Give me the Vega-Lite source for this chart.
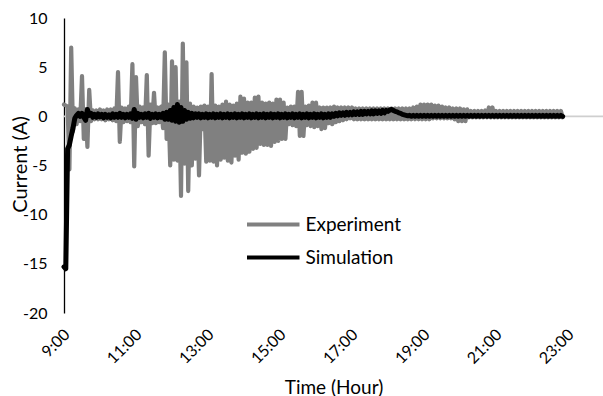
{
"$schema":"https://vega.github.io/schema/vega-lite/v6.json",
"width":539,"height":295,
"autosize":{"type":"none"},
"padding":{"left":64,"top":18,"right":0,"bottom":83},
"background":"white",
"config":{"view":{"stroke":null},"font":"Lato",
 "axis":{"labelColor":"#000","titleColor":"#000","labelFont":"Lato","titleFont":"Lato","titleFontWeight":"normal","grid":false,"ticks":false}},
"data":{"values":[
{"t":9.00,"e":1.2,"s":-15.3},{"t":9.05,"e":1.1,"s":-15.5},{"t":9.10,"e":1.0,"s":-3.3},{"t":9.15,"e":-5.4,"s":-2.9},{"t":9.20,"e":7.0,"s":-2.0},
{"t":9.25,"e":-1.5,"s":-1.2},{"t":9.30,"e":0.8,"s":-0.2},{"t":9.35,"e":-0.8,"s":0.1},{"t":9.40,"e":0.7,"s":0.3},{"t":9.45,"e":-0.5,"s":0.0},
{"t":9.50,"e":4.1,"s":0.3},{"t":9.55,"e":-2.3,"s":-0.1},{"t":9.60,"e":0.7,"s":-0.4},{"t":9.65,"e":-3.1,"s":0.7},{"t":9.70,"e":2.7,"s":0.1},
{"t":9.75,"e":-0.5,"s":0.3},{"t":9.80,"e":0.6,"s":-0.1},{"t":9.85,"e":-0.3,"s":0.2},{"t":9.90,"e":0.6,"s":-0.1},{"t":9.95,"e":-0.3,"s":0.25},
{"t":10.00,"e":0.7,"s":-0.05},{"t":10.05,"e":-0.3,"s":0.2},{"t":10.10,"e":0.6,"s":-0.15},{"t":10.15,"e":-0.4,"s":0.2},{"t":10.20,"e":0.7,"s":-0.1},
{"t":10.25,"e":-0.3,"s":0.15},{"t":10.30,"e":0.7,"s":-0.15},{"t":10.35,"e":-0.4,"s":0.25},{"t":10.40,"e":0.8,"s":-0.1},{"t":10.45,"e":-0.5,"s":0.2},
{"t":10.50,"e":4.5,"s":-0.1},{"t":10.55,"e":-2.6,"s":0.3},{"t":10.60,"e":0.9,"s":-0.1},{"t":10.65,"e":-0.6,"s":0.2},{"t":10.70,"e":0.8,"s":-0.15},
{"t":10.75,"e":-0.5,"s":0.2},{"t":10.80,"e":1.0,"s":-0.1},{"t":10.85,"e":-0.6,"s":0.25},{"t":10.90,"e":5.3,"s":-0.2},{"t":10.95,"e":-5.1,"s":0.7},
{"t":11.00,"e":4.0,"s":-0.3},{"t":11.05,"e":-1.0,"s":0.3},{"t":11.10,"e":1.0,"s":-0.1},{"t":11.15,"e":-0.6,"s":0.2},{"t":11.20,"e":0.9,"s":-0.15},
{"t":11.25,"e":-0.8,"s":0.25},{"t":11.30,"e":4.2,"s":-0.1},{"t":11.35,"e":-4.0,"s":0.3},{"t":11.40,"e":1.2,"s":-0.2},{"t":11.45,"e":-0.7,"s":0.2},
{"t":11.50,"e":2.4,"s":-0.1},{"t":11.55,"e":-0.7,"s":0.25},{"t":11.60,"e":0.9,"s":-0.15},{"t":11.65,"e":-0.6,"s":0.2},{"t":11.70,"e":1.0,"s":-0.1},
{"t":11.75,"e":-1.2,"s":0.3},{"t":11.80,"e":6.5,"s":-0.3},{"t":11.85,"e":-2.3,"s":0.4},{"t":11.90,"e":1.2,"s":-0.3},{"t":11.95,"e":-5.0,"s":0.6},
{"t":12.00,"e":5.6,"s":-0.4},{"t":12.05,"e":-4.4,"s":0.9},{"t":12.10,"e":5.0,"s":-0.5},{"t":12.15,"e":-4.5,"s":1.2},{"t":12.20,"e":1.5,"s":-0.6},
{"t":12.25,"e":-8.1,"s":0.9},{"t":12.30,"e":7.4,"s":-0.5},{"t":12.35,"e":-4.8,"s":0.6},{"t":12.40,"e":5.5,"s":-0.3},{"t":12.45,"e":-7.6,"s":0.4},
{"t":12.50,"e":1.3,"s":-0.2},{"t":12.55,"e":-5.0,"s":0.3},{"t":12.60,"e":1.0,"s":-0.15},{"t":12.65,"e":-4.3,"s":0.25},{"t":12.70,"e":0.9,"s":-0.1},
{"t":12.75,"e":-6.0,"s":0.25},{"t":12.80,"e":1.0,"s":-0.15},{"t":12.85,"e":-1.3,"s":0.2},{"t":12.90,"e":1.1,"s":-0.1},{"t":12.95,"e":-4.6,"s":0.25},
{"t":13.00,"e":1.0,"s":-0.15},{"t":13.05,"e":-4.5,"s":0.2},{"t":13.10,"e":4.3,"s":-0.1},{"t":13.15,"e":-4.6,"s":0.25},{"t":13.20,"e":1.1,"s":-0.15},
{"t":13.25,"e":-5.0,"s":0.2},{"t":13.30,"e":1.0,"s":-0.1},{"t":13.35,"e":-4.4,"s":0.25},{"t":13.40,"e":1.2,"s":-0.15},{"t":13.45,"e":-4.2,"s":0.2},
{"t":13.50,"e":1.5,"s":-0.1},{"t":13.55,"e":-4.5,"s":0.25},{"t":13.60,"e":1.2,"s":-0.15},{"t":13.65,"e":-4.7,"s":0.2},{"t":13.70,"e":1.1,"s":-0.1},
{"t":13.75,"e":-4.0,"s":0.25},{"t":13.80,"e":1.3,"s":-0.15},{"t":13.85,"e":-4.4,"s":0.2},{"t":13.90,"e":2.0,"s":-0.1},{"t":13.95,"e":-3.7,"s":0.25},
{"t":14.00,"e":1.8,"s":-0.15},{"t":14.05,"e":-3.8,"s":0.2},{"t":14.10,"e":1.4,"s":-0.1},{"t":14.15,"e":-3.6,"s":0.25},{"t":14.20,"e":1.4,"s":-0.15},
{"t":14.25,"e":-3.3,"s":0.2},{"t":14.30,"e":1.9,"s":-0.1},{"t":14.35,"e":-3.2,"s":0.25},{"t":14.40,"e":2.0,"s":-0.15},{"t":14.45,"e":-2.8,"s":0.2},
{"t":14.50,"e":1.4,"s":-0.1},{"t":14.55,"e":-2.9,"s":0.25},{"t":14.60,"e":1.3,"s":-0.15},{"t":14.65,"e":-2.9,"s":0.2},{"t":14.70,"e":1.4,"s":-0.1},
{"t":14.75,"e":-3.0,"s":0.25},{"t":14.80,"e":1.3,"s":-0.15},{"t":14.85,"e":-2.6,"s":0.2},{"t":14.90,"e":1.7,"s":-0.1},{"t":14.95,"e":-2.5,"s":0.25},
{"t":15.00,"e":1.7,"s":-0.15},{"t":15.05,"e":-2.3,"s":0.2},{"t":15.10,"e":1.4,"s":-0.1},{"t":15.15,"e":-2.3,"s":0.25},{"t":15.20,"e":0.9,"s":-0.15},
{"t":15.25,"e":-0.8,"s":0.2},{"t":15.30,"e":1.0,"s":-0.1},{"t":15.35,"e":-0.9,"s":0.25},{"t":15.40,"e":1.0,"s":-0.15},{"t":15.45,"e":-1.0,"s":0.2},
{"t":15.50,"e":2.5,"s":-0.1},{"t":15.55,"e":-2.0,"s":0.25},{"t":15.60,"e":2.5,"s":-0.15},{"t":15.65,"e":-2.0,"s":0.2},{"t":15.70,"e":1.0,"s":-0.1},
{"t":15.75,"e":-0.9,"s":0.25},{"t":15.80,"e":1.1,"s":-0.15},{"t":15.85,"e":-1.0,"s":0.2},{"t":15.90,"e":1.4,"s":-0.1},{"t":15.95,"e":-1.1,"s":0.25},
{"t":16.00,"e":1.4,"s":-0.15},{"t":16.05,"e":-1.0,"s":0.2},{"t":16.10,"e":0.9,"s":-0.1},{"t":16.15,"e":-1.3,"s":0.25},{"t":16.20,"e":0.9,"s":-0.15},
{"t":16.25,"e":-1.2,"s":0.2},{"t":16.30,"e":0.9,"s":-0.1},{"t":16.35,"e":-0.7,"s":0.25},{"t":16.40,"e":0.9,"s":-0.1},{"t":16.45,"e":-0.8,"s":0.25},
{"t":16.50,"e":1.0,"s":0.0},{"t":16.55,"e":-0.6,"s":0.3},{"t":16.60,"e":0.9,"s":0.05},{"t":16.65,"e":-0.5,"s":0.35},{"t":16.70,"e":0.9,"s":0.1},
{"t":16.75,"e":-0.4,"s":0.35},{"t":16.80,"e":0.9,"s":0.1},{"t":16.85,"e":-0.3,"s":0.4},{"t":16.90,"e":0.9,"s":0.15},{"t":16.95,"e":-0.2,"s":0.4},
{"t":17.00,"e":0.9,"s":0.15},{"t":17.05,"e":-0.3,"s":0.45},{"t":17.10,"e":0.8,"s":0.2},{"t":17.15,"e":-0.3,"s":0.45},{"t":17.20,"e":0.8,"s":0.2},
{"t":17.25,"e":-0.3,"s":0.5},{"t":17.30,"e":0.8,"s":0.2},{"t":17.35,"e":-0.3,"s":0.5},{"t":17.40,"e":0.8,"s":0.25},{"t":17.45,"e":-0.3,"s":0.5},
{"t":17.50,"e":0.8,"s":0.25},{"t":17.55,"e":-0.3,"s":0.55},{"t":17.60,"e":0.8,"s":0.25},{"t":17.65,"e":-0.3,"s":0.55},{"t":17.70,"e":0.8,"s":0.3},
{"t":17.75,"e":-0.3,"s":0.55},{"t":17.80,"e":0.8,"s":0.3},{"t":17.85,"e":-0.3,"s":0.6},{"t":17.90,"e":0.8,"s":0.35},{"t":17.95,"e":-0.3,"s":0.6},
{"t":18.00,"e":0.8,"s":0.5},{"t":18.05,"e":-0.3,"s":0.65},{"t":18.10,"e":0.8,"s":0.7},{"t":18.15,"e":-0.3,"s":0.6},{"t":18.20,"e":0.8,"s":0.5},
{"t":18.25,"e":-0.3,"s":0.45},{"t":18.30,"e":0.8,"s":0.35},{"t":18.35,"e":-0.3,"s":0.3},{"t":18.40,"e":0.8,"s":0.2},{"t":18.45,"e":-0.3,"s":0.15},
{"t":18.50,"e":0.8,"s":0.1},{"t":18.55,"e":-0.3,"s":0.05},{"t":18.60,"e":0.8,"s":0.1},{"t":18.65,"e":-0.3,"s":0.0},{"t":18.70,"e":0.9,"s":0.1},
{"t":18.75,"e":-0.3,"s":0.0},{"t":18.80,"e":1.0,"s":0.1},{"t":18.85,"e":-0.3,"s":0.0},{"t":18.90,"e":1.2,"s":0.1},{"t":18.95,"e":-0.3,"s":0.0},
{"t":19.00,"e":1.2,"s":0.1},{"t":19.05,"e":-0.3,"s":0.0},{"t":19.10,"e":1.2,"s":0.1},{"t":19.15,"e":-0.3,"s":0.0},{"t":19.20,"e":1.2,"s":0.1},
{"t":19.25,"e":-0.2,"s":0.0},{"t":19.30,"e":1.1,"s":0.1},{"t":19.35,"e":-0.2,"s":0.0},{"t":19.40,"e":1.1,"s":0.1},{"t":19.45,"e":-0.2,"s":0.0},
{"t":19.50,"e":1.0,"s":0.1},{"t":19.55,"e":-0.2,"s":0.0},{"t":19.60,"e":0.9,"s":0.1},{"t":19.65,"e":-0.2,"s":0.0},{"t":19.70,"e":0.9,"s":0.1},
{"t":19.75,"e":-0.2,"s":0.0},{"t":19.80,"e":0.8,"s":0.1},{"t":19.85,"e":-0.3,"s":0.0},{"t":19.90,"e":0.8,"s":0.1},{"t":19.95,"e":-0.5,"s":0.0},
{"t":20.00,"e":0.8,"s":0.1},{"t":20.05,"e":-0.5,"s":0.0},{"t":20.10,"e":0.7,"s":0.1},{"t":20.15,"e":-0.5,"s":0.0},{"t":20.20,"e":0.7,"s":0.1},
{"t":20.25,"e":-0.1,"s":0.0},{"t":20.30,"e":0.55,"s":0.1},{"t":20.35,"e":-0.1,"s":0.0},{"t":20.40,"e":0.55,"s":0.1},{"t":20.45,"e":-0.1,"s":0.0},
{"t":20.50,"e":0.55,"s":0.1},{"t":20.55,"e":-0.1,"s":0.0},{"t":20.60,"e":0.55,"s":0.1},{"t":20.65,"e":-0.1,"s":0.0},{"t":20.70,"e":0.6,"s":0.1},
{"t":20.75,"e":-0.1,"s":0.0},{"t":20.80,"e":0.9,"s":0.1},{"t":20.85,"e":-0.1,"s":0.0},{"t":20.90,"e":0.9,"s":0.1},{"t":20.95,"e":-0.1,"s":0.0},
{"t":21.00,"e":0.55,"s":0.1},{"t":21.05,"e":-0.1,"s":0.0},{"t":21.10,"e":0.55,"s":0.1},{"t":21.15,"e":-0.1,"s":0.0},{"t":21.20,"e":0.55,"s":0.1},
{"t":21.25,"e":-0.1,"s":0.0},{"t":21.30,"e":0.55,"s":0.1},{"t":21.35,"e":-0.1,"s":0.0},{"t":21.40,"e":0.55,"s":0.1},{"t":21.45,"e":-0.1,"s":0.0},
{"t":21.50,"e":0.55,"s":0.1},{"t":21.55,"e":-0.1,"s":0.0},{"t":21.60,"e":0.55,"s":0.1},{"t":21.65,"e":-0.1,"s":0.0},{"t":21.70,"e":0.55,"s":0.1},
{"t":21.75,"e":-0.1,"s":0.0},{"t":21.80,"e":0.55,"s":0.1},{"t":21.85,"e":-0.1,"s":0.0},{"t":21.90,"e":0.55,"s":0.1},{"t":21.95,"e":-0.1,"s":0.0},
{"t":22.00,"e":0.55,"s":0.1},{"t":22.05,"e":-0.1,"s":0.0},{"t":22.10,"e":0.55,"s":0.1},{"t":22.15,"e":-0.1,"s":0.0},{"t":22.20,"e":0.55,"s":0.1},
{"t":22.25,"e":-0.1,"s":0.0},{"t":22.30,"e":0.55,"s":0.1},{"t":22.35,"e":-0.1,"s":0.0},{"t":22.40,"e":0.55,"s":0.1},{"t":22.45,"e":-0.1,"s":0.0},
{"t":22.50,"e":0.55,"s":0.1},{"t":22.55,"e":-0.1,"s":0.0},{"t":22.60,"e":0.55,"s":0.1},{"t":22.65,"e":-0.1,"s":0.0},{"t":22.70,"e":0.55,"s":0.1},
{"t":22.75,"e":-0.1,"s":0.0},{"t":22.80,"e":0.55,"s":0.1},{"t":22.85,"e":-0.1,"s":0.0}
]},
"layer":[
 {"data":{"values":[{"y":0}]},
  "mark":{"type":"rule","color":"#cfcfcf","strokeWidth":1.6},
  "encoding":{"y":{"field":"y","type":"quantitative","scale":{"domain":[-20,10],"nice":false,"zero":false}}}},
 {"mark":{"type":"line","strokeWidth":4.2,"strokeJoin":"round","strokeCap":"round"},
  "encoding":{
   "x":{"field":"t","type":"quantitative","scale":{"domain":[9,23.97],"nice":false,"zero":false},
        "axis":{"title":"Time (Hour)","values":[9,11,13,15,17,19,21,23],"labelExpr":"datum.value + ':00'","labelAngle":-45,"labelFontSize":16,"labelPadding":13,"labelOffset":-3,"domain":false,"titleFontSize":19,"titleY":80,"titleBaseline":"alphabetic"}},
   "y":{"field":"e","type":"quantitative","scale":{"domain":[-20,10],"nice":false,"zero":false},
        "axis":{"title":"Current (A)","values":[-20,-15,-10,-5,0,5,10],"labelExpr":"datum.value + ''","labelFontSize":16,"labelPadding":17,"domainColor":"#000","domainWidth":1.3,"titleFontSize":20,"titleX":-38,"titleY":146,"titleAngle":-90,"titleAlign":"center","titleBaseline":"alphabetic"}},
   "color":{"datum":"Experiment","type":"nominal","scale":{"domain":["Experiment","Simulation"],"range":["#808080","#000000"]},
            "legend":{"orient":"none","legendX":198.5,"legendY":187,"title":null,"symbolType":"M-2,0H1","symbolSize":1225,"symbolStrokeWidth":4,"labelFontSize":19,"labelFont":"Lato","labelColor":"#000","rowPadding":3,"padding":0,"labelOffset":4}}}},
 {"mark":{"type":"line","strokeWidth":5,"strokeJoin":"round","strokeCap":"round"},
  "encoding":{
   "x":{"field":"t","type":"quantitative"},
   "y":{"field":"s","type":"quantitative"},
   "color":{"datum":"Simulation","type":"nominal"}}}
]
}
